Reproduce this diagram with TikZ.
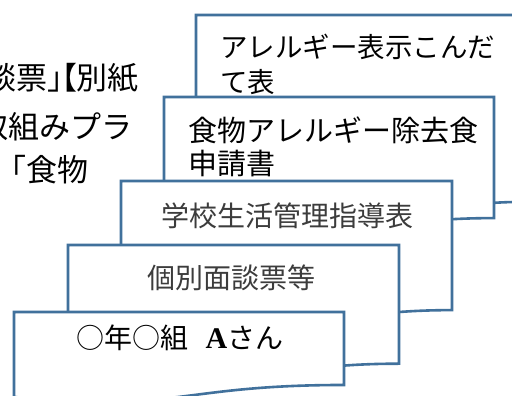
\documentclass[tikz,border=0pt]{standalone}
\usepackage{fontspec}
\newfontfamily\cjk{Noto Sans CJK JP}
\newfontfamily\latinserif{Liberation Serif}
\definecolor{boxblue}{RGB}{65,113,156}
\definecolor{txtgray}{RGB}{60,60,60}
% document shape: #1=left, #2=top, #3=width, #4=height
\newcommand{\docshape}[4]{%
  \draw[docline] (#1,#2) -- ({#1+#3},#2) -- ({#1+#3},{#2+0.802*#4})
    .. controls ({#1+0.5*#3},{#2+0.802*#4}) and ({#1+0.5*#3},{#2+1.1075*#4}) ..
    (#1,{#2+0.934*#4}) -- cycle;}
\tikzset{
  docline/.style={draw=boxblue, fill=white, line width=2.6pt, line join=miter},
  lbl/.style={inner sep=0pt, outer sep=0pt, text=black},
}
\begin{document}
\begin{tikzpicture}[x=1pt,y=-1pt]
\useasboundingbox (0,0) rectangle (512,396);
\fill[white] (0,0) rectangle (512,396);

% background paragraph text (partly hidden)
\begin{scope}[every node/.style={lbl, font=\cjk\fontsize{31}{31}\selectfont}]
\node[anchor=base west] (bg1) at (-14.5,89) {談票」\hspace{-32pt}【\hspace{-1.5pt}別紙};
\node[anchor=base east] (bg2) at (132.5,139) {取組みプラ};
\node[anchor=base west] (bg3) at (-4.5,182) {「食物};
\end{scope}

% stacked documents, back to front
\docshape{196}{15}{330}{233}
\node[lbl, anchor=base west, font=\cjk\fontsize{27.5}{27.5}\selectfont] (t1a) at (220,57.5) {アレルギー表示こんだ};
\node[lbl, anchor=base west, font=\cjk\fontsize{27.5}{27.5}\selectfont] (t1b) at (220,92.5) {て表};

\docshape{164}{97}{330}{151}
\node[lbl, anchor=base west, font=\cjk\fontsize{29}{29}\selectfont] (t2a) at (188,142) {食物アレルギー除去食};
\node[lbl, anchor=base west, font=\cjk\fontsize{29}{29}\selectfont] (t2b) at (188,174) {申請書};

\docshape{121}{181}{331}{161}
\node[lbl, anchor=base, text=txtgray, font=\cjk\fontsize{28}{28}\selectfont] (t3) at (287,226) {学校生活管理指導表};

\docshape{68}{245}{331}{148}
\node[lbl, anchor=base, text=txtgray, font=\cjk\fontsize{28}{28}\selectfont] (t4) at (231,288) {個別面談票等};

\docshape{14}{312}{330}{91}
\node[lbl, anchor=base, font=\cjk\fontsize{28}{28}\selectfont] (t5) at (180,348) {○年○組\hspace{0.6em}{\latinserif\bfseries\fontsize{30}{30}\selectfont A}さん};
\end{tikzpicture}
\end{document}
